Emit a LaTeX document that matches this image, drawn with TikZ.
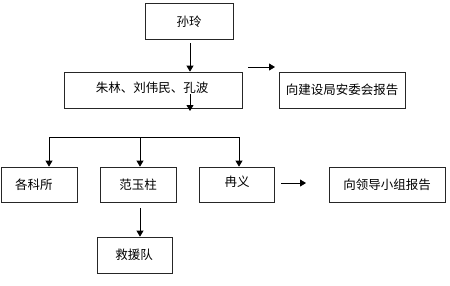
\documentclass[tikz,border=0pt]{standalone}
\usepackage{fontspec}
\newfontfamily\cjk{Noto Sans CJK SC}
\usetikzlibrary{arrows.meta}
\begin{document}
\begin{tikzpicture}[x=1pt,y=-1pt,
  box/.style={draw=black!85,line width=0.8pt,rectangle,inner sep=0pt},
  txt/.style={font=\cjk\fontsize{12.5}{14}\selectfont,inner sep=0pt},
  arr/.style={line width=0.8pt,-{Triangle[length=6pt,width=7pt]}},
  ln/.style={line width=0.8pt}]
\useasboundingbox (0,0) rectangle (450,285);
% boxes
\node[box,minimum width=88pt,minimum height=36pt] (sl) at (189,21) {};
\node[box,minimum width=178pt,minimum height=36pt] (zl) at (153,90) {};
\node[box,minimum width=126pt,minimum height=36pt] (jsj) at (342,90) {};
\node[box,minimum width=76pt,minimum height=35pt] (gks) at (39,184.5) {};
\node[box,minimum width=76pt,minimum height=35pt] (fyz) at (138,184.5) {};
\node[box,minimum width=75pt,minimum height=35pt] (ry) at (236.5,184.5) {};
\node[box,minimum width=116pt,minimum height=35pt] (ldxz) at (387,184.5) {};
\node[box,minimum width=75pt,minimum height=36pt] (jyd) at (134.5,255) {};
% texts
\node[txt] (slt) at (189,22) {孙玲};
\node[txt] (zlt) at (152,88) {朱林、刘伟民、孔波};
\node[txt] (jsjt) at (342,90) {向建设局安委会报告};
\node[txt] (gkst) at (34,185) {各科所};
\node[txt] (fyzt) at (138,185) {范玉柱};
\node[txt] (ryt) at (237,182) {冉义};
\node[txt] (ldxzt) at (387,185) {向领导小组报告};
\node[txt] (jydt) at (134,255) {救援队};
% connectors
\coordinate (a1) at (190,43);
\draw[arr] (a1) -- (a1 |- zl.north);
\coordinate (a2) at (190,94);
\coordinate (a2e) at (190,111);
\draw[arr] (a2) -- (a2e);
\coordinate (r1) at (248,67);
\coordinate (r2) at (275,67);
\draw[arr] (r1) -- (r2);
\coordinate (b1) at (49,137);
\coordinate (b2) at (140,137);
\coordinate (b3) at (239,137);
\draw[ln] (b1) -- (b3);
\draw[arr] (b1) -- (b1 |- gks.north);
\draw[arr] (b2) -- (b2 |- fyz.north);
\draw[arr] (b3) -- (b3 |- ry.north);
\coordinate (r3) at (281,183);
\coordinate (r4) at (306,183);
\draw[arr] (r3) -- (r4);
\coordinate (d1) at (140,208);
\draw[arr] (d1) -- (d1 |- jyd.north);
\end{tikzpicture}
\end{document}
